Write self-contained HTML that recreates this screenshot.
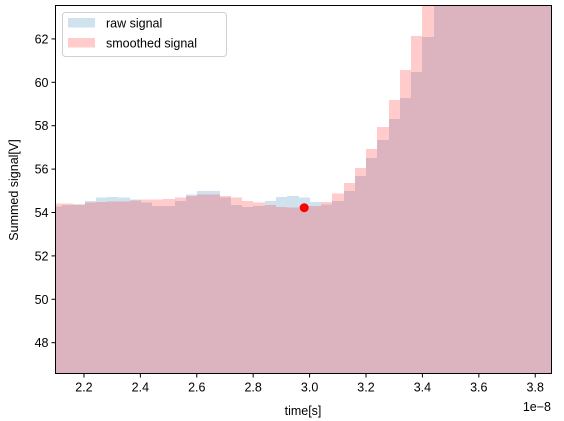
<!DOCTYPE html>
<html><head><meta charset="utf-8"><style>
html,body{margin:0;padding:0;background:#fff;}
svg{display:block;font-family:"Liberation Sans","DejaVu Sans",sans-serif;}
</style></head><body>
<svg id="chart" width="564" height="421" viewBox="0 0 564 421">
<g id="bars" shape-rendering="crispEdges"></g>
<g id="axes"></g>
</svg>
<script>
const binStart = 2.1228;
const binWidth = 0.0399;
const rawSignal = [54.27,54.35,54.37,54.54,54.68,54.72,54.68,54.59,54.46,54.31,54.31,54.54,54.82,55.0,55.0,54.68,54.35,54.26,54.31,54.54,54.72,54.77,54.68,54.49,54.36,54.54,55.0,55.69,56.52,57.35,58.32,59.28,60.48,62.09,64,66,68,70,72,74,76,78,80,82,84];
const smoothSignal = [54.41,54.41,54.37,54.46,54.49,54.51,54.51,54.56,54.59,54.59,54.63,54.68,54.77,54.82,54.82,54.77,54.68,54.54,54.45,54.35,54.26,54.22,54.31,54.31,54.49,54.87,55.37,56.06,56.93,57.95,59.19,60.57,62.14,64.5,66,68,70,72,74,76,78,80,82,84,86];
const markerPoint = [2.981, 54.22];
const xTicks = [2.2,2.4,2.6,2.8,3.0,3.2,3.4,3.6,3.8];
const xTickLabels = ["2.2","2.4","2.6","2.8","3.0","3.2","3.4","3.6","3.8"];
const yTicks = [48,50,52,54,56,58,60,62];
const yTickLabels = ["48","50","52","54","56","58","60","62"];

const L=55.5,R=551.5,T=5.5,B=373.5;
const xMin=2.0991,xMax=3.8577,yMin=46.58,yMax=63.54;
const NS='http://www.w3.org/2000/svg';
function sx(v){return L+(v-xMin)/(xMax-xMin)*(R-L);}
function sy(v){return B-(v-yMin)/(yMax-yMin)*(B-T);}
function mk(tag,attrs,parent){const e=document.createElementNS(NS,tag);for(const k in attrs)e.setAttribute(k,attrs[k]);parent.appendChild(e);return e;}
const svg=document.getElementById('chart');
const defs=mk('defs',{},svg);
const cp=mk('clipPath',{id:'clip'},defs);
mk('rect',{x:L,y:T,width:R-L,height:B-T},cp);
const bars=document.getElementById('bars');
bars.setAttribute('clip-path','url(#clip)');
for(let i=0;i<rawSignal.length;i++){
  const x0=Math.round(sx(binStart+(i-1)*binWidth)), x1=Math.round(sx(binStart+i*binWidth));
  const r=rawSignal[i], s=smoothSignal[i];
  const hi=Math.max(r,s), lo=Math.min(r,s);
  const top=mk('rect',{x:x0,y:sy(hi),width:x1-x0,height:B-sy(hi),fill:r>s?'#cfe2ed':'#ffcccb'},bars);
  
  
  const ov=mk('rect',{x:x0,y:sy(lo),width:x1-x0,height:B-sy(lo),fill:'#dbb4bf'},bars);
  
  
}
const dot=mk('circle',{cx:sx(markerPoint[0]),cy:sy(markerPoint[1]),r:4.5,fill:'#ff0000','shape-rendering':'auto'},bars);


const ax=document.getElementById('axes');
const frame=mk('rect',{x:L,y:T,width:R-L,height:B-T,fill:'none',stroke:'#000','stroke-width':1},ax);


xTicks.forEach((v,i)=>{
  const x=sx(v);
  mk('line',{x1:x,y1:B,x2:x,y2:B+4,stroke:'#000'},ax);
  const t=mk('text',{x:x,y:B+18,'text-anchor':'middle','font-size':12.5,fill:'#000'},ax);
  t.textContent=xTickLabels[i];
  
  
});
yTicks.forEach((v,i)=>{
  const y=sy(v);
  mk('line',{x1:L-4,y1:y,x2:L,y2:y,stroke:'#000'},ax);
  const t=mk('text',{x:L-7,y:y+4.5,'text-anchor':'end','font-size':12.5,fill:'#000'},ax);
  t.textContent=yTickLabels[i];
  
  
});
</script>
<svg style="position:absolute;left:0;top:0" width="564" height="421">
<text x="303" y="415" text-anchor="middle" font-size="12.5">time[s]</text>
<text x="551" y="411" text-anchor="end" font-size="12.5">1e−8</text>
<text transform="translate(18,190) rotate(-90)" text-anchor="middle" font-size="12.5">Summed signal[V]</text>
<g>
<rect x="62.5" y="12.5" width="164" height="44" rx="3" fill="#fff" fill-opacity="0.8" stroke="#d0d0d0"/>
<rect x="68" y="18" width="27" height="9.5" fill="#cfe2ed"/>
<text x="106" y="27.5" font-size="12.5">raw signal</text>
<rect x="68" y="38" width="27" height="9.5" fill="#ffcccb"/>
<text x="106" y="47.5" font-size="12.5">smoothed signal</text>
</g>
</svg>
</body></html>
